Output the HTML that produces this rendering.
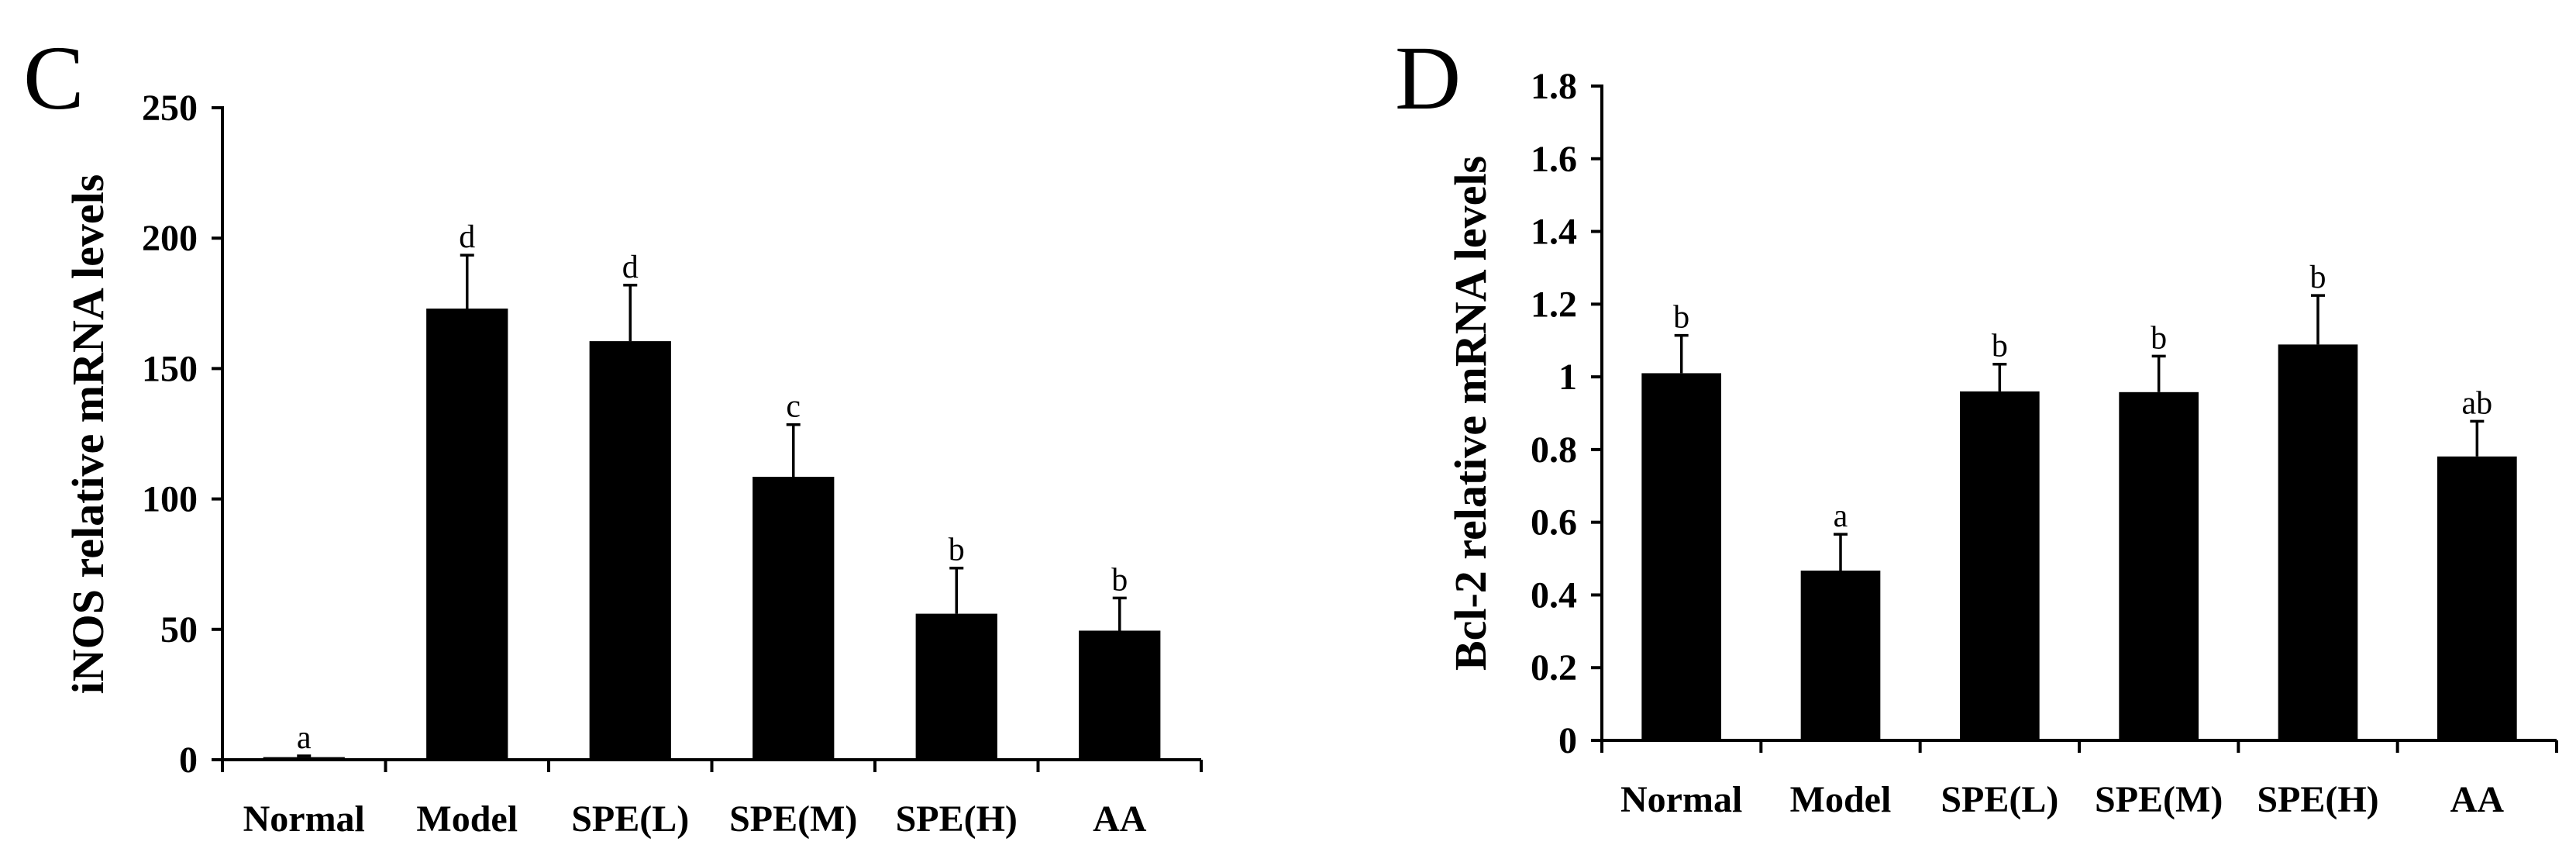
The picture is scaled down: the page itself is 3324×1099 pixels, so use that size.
<!DOCTYPE html>
<html><head><meta charset="utf-8">
<style>
html,body{margin:0;padding:0;background:#fff;}
svg{display:block;}
text{font-family:"Liberation Serif",serif;fill:#000;}
.tk{font-weight:bold;font-size:48px;}
.ttl{font-weight:bold;font-size:58px;}
.let{font-size:42px;}
.pan{font-size:118px;}
</style></head>
<body>
<svg id="chart" width="3324" height="1099" viewBox="0 0 3324 1099" xmlns="http://www.w3.org/2000/svg">
<text class="pan" x="30" y="140">C</text>
<text class="pan" x="1800" y="140">D</text>
<text class="ttl" transform="translate(133,560) rotate(-90)" text-anchor="middle">iNOS relative mRNA levels</text>
<text class="ttl" transform="translate(1917,533) rotate(-90)" text-anchor="middle">Bcl-2 relative mRNA levels</text>
<g id="gc"></g>
<g id="gd"></g>
</svg>
<script>
const categories = ["Normal","Model","SPE(L)","SPE(M)","SPE(H)","AA"];
const iNOSValues = [1, 173, 160.5, 108.5, 56, 49.5];
const iNOSErrors = [0.5, 20.5, 21.5, 20, 17.5, 12.5];
const iNOSLetters = ["a","d","d","c","b","b"];
const iNOSTicks = [0,50,100,150,200,250];
const iNOSTickLabels = ["0","50","100","150","200","250"];
const bcl2Values = [1.01, 0.467, 0.96, 0.958, 1.089, 0.781];
const bcl2Errors = [0.104, 0.1, 0.075, 0.099, 0.135, 0.097];
const bcl2Letters = ["b","a","b","b","b","ab"];
const bcl2Ticks = [0,0.2,0.4,0.6,0.8,1,1.2,1.4,1.6,1.8];
const bcl2TickLabels = ["0","0.2","0.4","0.6","0.8","1","1.2","1.4","1.6","1.8"];

const NS="http://www.w3.org/2000/svg";
function mk(tag, attrs, parent){const e=document.createElementNS(NS,tag);for(const k in attrs)e.setAttribute(k,attrs[k]);parent.appendChild(e);return e;}

function drawChart(g, cfg, values, errors, letters, ticks, tickLabels, prefix){
  const {x0,x1,y0,yTop,max,labelY} = cfg;
  const n = categories.length;
  const cw = (x1-x0)/n;
  const xScale = i => x0 + cw*(i+0.5);
  const yScale = v => y0 - (v/max)*(y0-yTop);
  const bw = cw*0.5;
  // bars
  values.forEach((v,i)=>{
    const yb=yScale(v);
    const r=mk('rect',{x:xScale(i)-bw/2,y:yb,width:bw,height:Math.max(y0-yb,1.5),fill:'#000'},g);
    
    
    const ye=yScale(v+errors[i]);
    const eb=mk('path',{d:`M${xScale(i)},${yb} V${ye} M${xScale(i)-9},${ye} H${xScale(i)+9}`,stroke:'#000','stroke-width':3.5,fill:'none'},g);
    
    
    const t=mk('text',{x:xScale(i),y:ye-10,'text-anchor':'middle',class:'let'},g);
    t.textContent=letters[i];
    
    
    const xl=mk('text',{x:xScale(i),y:labelY,'text-anchor':'middle',class:'tk'},g);
    xl.textContent=categories[i];
    
    
  });
  // axes
  const ya=mk('line',{x1:x0,y1:yTop-2,x2:x0,y2:y0+2,stroke:'#000','stroke-width':4},g);
  
  
  const xa=mk('line',{x1:x0-14,y1:y0,x2:x1,y2:y0,stroke:'#000','stroke-width':4},g);
  
  
  for(let i=0;i<=n;i++){
    const tx=x0+cw*i;
    mk('line',{x1:tx,y1:y0,x2:tx,y2:y0+16,stroke:'#000','stroke-width':4},g);
  }
  ticks.forEach((v,i)=>{
    const y=yScale(v);
    mk('line',{x1:x0-14,y1:y,x2:x0,y2:y,stroke:'#000','stroke-width':4},g);
    const t=mk('text',{x:x0-32,y:y+16,'text-anchor':'end',class:'tk'},g);
    t.textContent=tickLabels[i];
    
    
  });
}
drawChart(document.getElementById('gc'),{x0:287,x1:1550,y0:980,yTop:139,max:250,labelY:1072},iNOSValues,iNOSErrors,iNOSLetters,iNOSTicks,iNOSTickLabels,'inos');
drawChart(document.getElementById('gd'),{x0:2067,x1:3299,y0:955,yTop:111,max:1.8,labelY:1047},bcl2Values,bcl2Errors,bcl2Letters,bcl2Ticks,bcl2TickLabels,'bcl2');
</script>
</body></html>
